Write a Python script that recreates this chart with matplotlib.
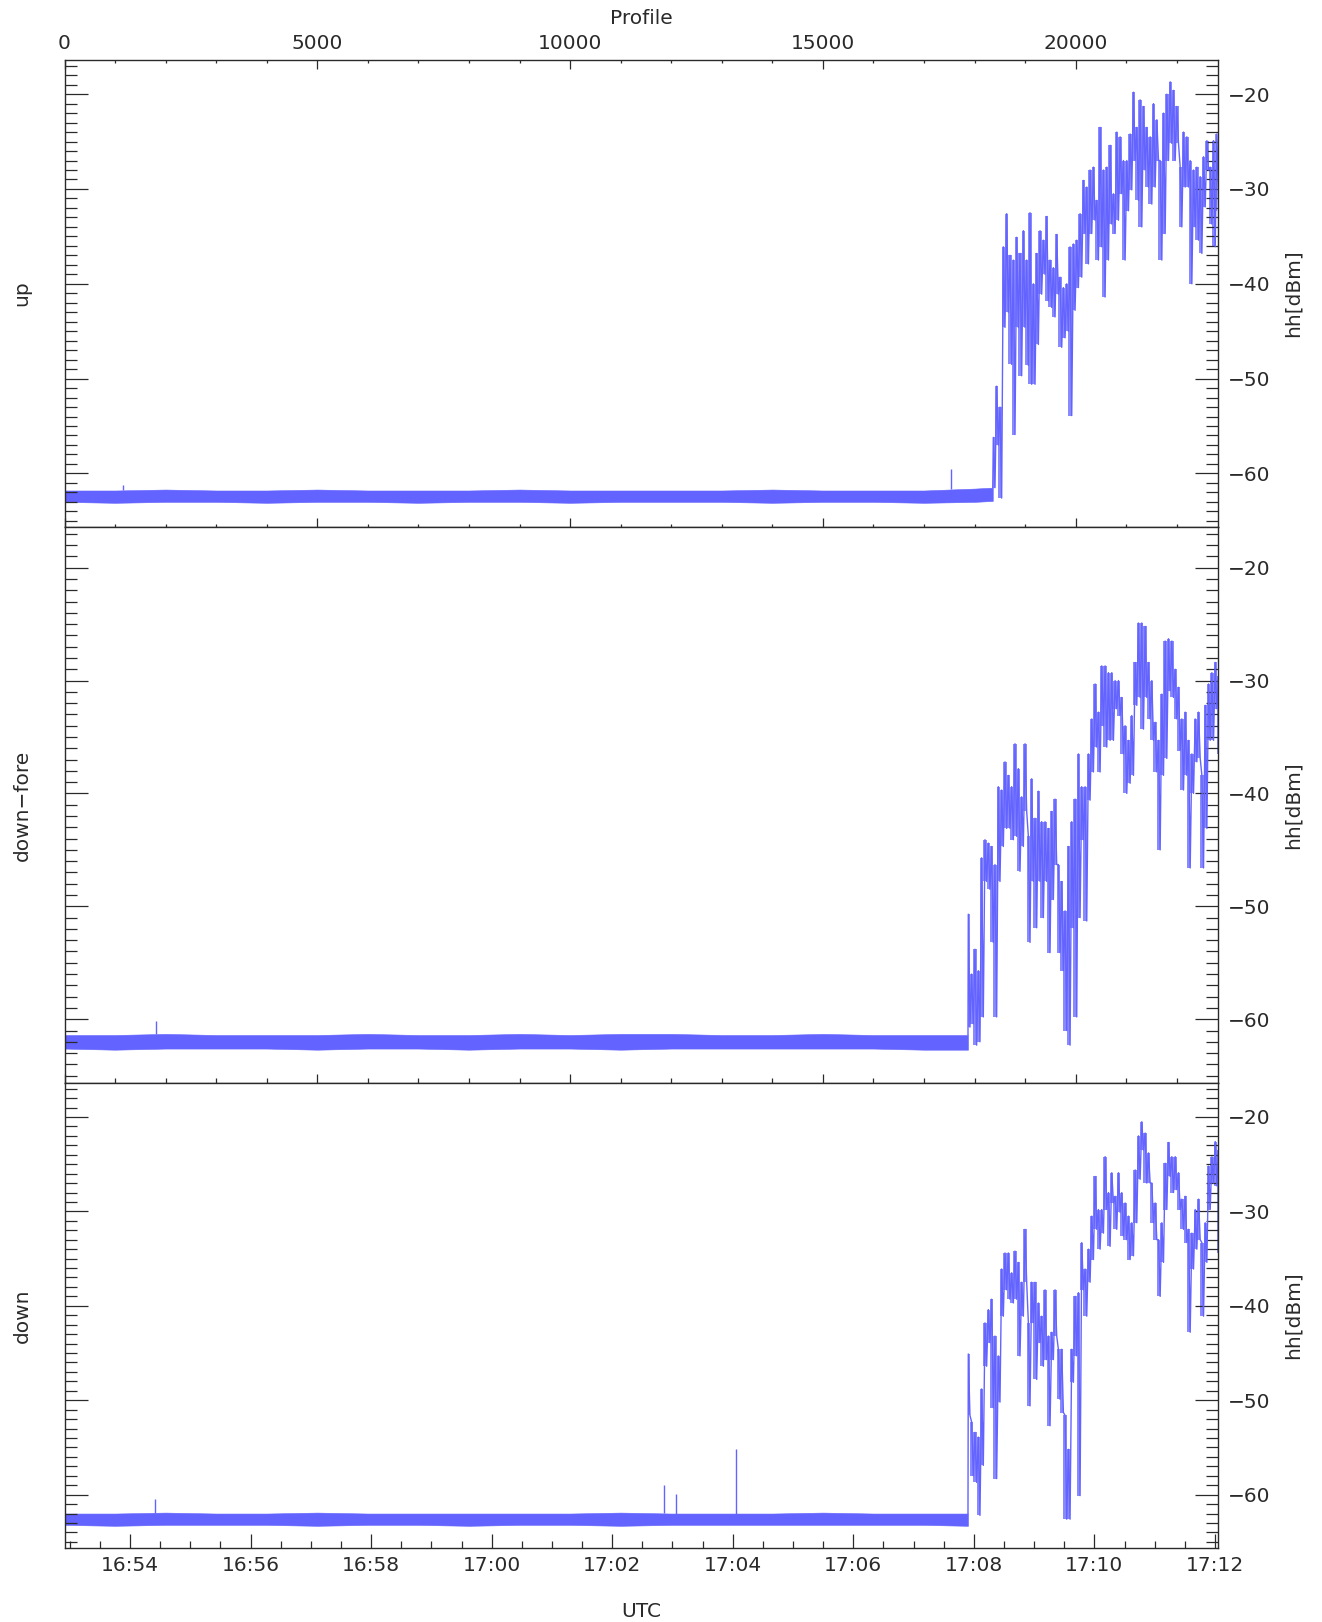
import numpy as np
import matplotlib
matplotlib.use("Agg")
import matplotlib.pyplot as plt
from matplotlib.ticker import MultipleLocator, FixedLocator, FixedFormatter

# profile number / UTC time of the record
N_PROF = 22815
T_START = 16 * 3600 + 52 * 60 + 54.8     # seconds of day at profile 0
T_END = 17 * 3600 + 12 * 60 + 3.0        # seconds of day at N_PROF

PANEL_NAMES = ["up", "down\u2212fore", "down"]
Y_LABEL = "hh[dBm]"

utc_major = ["16:54", "16:56", "16:58", "17:00", "17:02", "17:04",
             "17:06", "17:08", "17:10", "17:12"]

# noise floor before the returns come in (profile, upper and lower envelope)
up_floor_prof = [0, 1000, 2000, 3000, 4000, 5000, 6000, 7000, 8000, 9000,
                 10000, 11000, 12000, 13000, 14000, 15000, 16000, 17000, 18000, 18360]
up_floor_hi = [-61.8, -61.8, -61.7, -61.8, -61.8, -61.7, -61.8, -61.8, -61.8, -61.7,
               -61.8, -61.8, -61.8, -61.8, -61.7, -61.8, -61.8, -61.8, -61.6, -61.5]
up_floor_lo = [-63.0, -63.1, -63.0, -63.0, -63.1, -63.0, -63.0, -63.1, -63.0, -63.0,
               -63.1, -63.0, -63.0, -63.0, -63.1, -63.0, -63.0, -63.1, -63.0, -62.9]

fore_floor_prof = [0, 1000, 2000, 3000, 4000, 5000, 6000, 7000, 8000, 9000,
                   10000, 11000, 12000, 13000, 14000, 15000, 16000, 17000, 17870]
fore_floor_hi = [-61.4, -61.4, -61.3, -61.4, -61.4, -61.4, -61.3, -61.4, -61.4, -61.3,
                 -61.4, -61.3, -61.3, -61.4, -61.4, -61.3, -61.4, -61.4, -61.4]
fore_floor_lo = [-62.6, -62.7, -62.6, -62.6, -62.6, -62.7, -62.6, -62.6, -62.7, -62.6,
                 -62.6, -62.7, -62.6, -62.6, -62.6, -62.6, -62.6, -62.7, -62.7]

down_floor_prof = [0, 1000, 2000, 3000, 4000, 5000, 6000, 7000, 8000, 9000,
                   10000, 11000, 12000, 13000, 14000, 15000, 16000, 17000, 17870]
down_floor_hi = [-62.0, -62.0, -61.9, -62.0, -62.0, -61.9, -62.0, -62.0, -62.0, -62.0,
                 -62.0, -61.9, -62.0, -62.0, -62.0, -61.9, -62.0, -62.0, -62.0]
down_floor_lo = [-63.2, -63.3, -63.2, -63.2, -63.2, -63.3, -63.2, -63.2, -63.3, -63.2,
                 -63.2, -63.3, -63.2, -63.2, -63.2, -63.2, -63.2, -63.2, -63.3]

# isolated spikes in the noise floor (profile, peak)
up_spike_prof = [1157, 17534]
up_spike_val = [-61.2, -59.5]
fore_spike_prof = [1814]
fore_spike_val = [-60.2]
down_spike_prof = [1794, 11863, 12094, 13275]
down_spike_val = [-60.5, -59.0, -59.9, -55.2]

# surface returns: upper / lower envelope every 66 profiles
STEP = 66
up_start = 18371
up_hi = [-56.2, -50.8, -53.0, -36.1, -32.6, -37.0, -37.5, -35.1, -36.8, -34.4,
         -37.5, -32.5, -40.0, -36.8, -34.4, -35.4, -32.9, -37.5, -38.3, -34.8,
         -39.3, -40.4, -40.0, -36.1, -35.8, -35.4, -32.6, -29.1, -29.8, -28.0,
         -27.7, -31.2, -23.5, -28.0, -27.7, -25.4, -30.5, -24.0, -24.5, -27.0,
         -27.0, -24.2, -19.8, -23.5, -20.6, -21.3, -23.5, -24.5, -21.0, -22.7,
         -27.0, -22.0, -20.0, -18.7, -19.6, -21.3, -27.7, -24.0, -24.5, -27.0,
         -28.0, -27.7, -28.7, -26.6, -24.9, -27.7, -24.9, -24.2]
up_lo = [-61.5, -57.0, -62.6, -44.6, -43.0, -48.5, -55.9, -44.6, -49.7, -44.6,
         -48.6, -50.6, -50.6, -46.4, -41.1, -39.0, -41.8, -42.5, -43.5, -41.1,
         -46.7, -45.7, -45.0, -53.9, -42.8, -40.4, -39.3, -34.7, -37.9, -34.7,
         -33.3, -37.5, -36.1, -41.4, -37.5, -33.7, -34.7, -33.3, -30.5, -37.5,
         -32.3, -30.1, -27.0, -31.2, -34.0, -28.0, -29.8, -31.6, -29.8, -27.0,
         -37.5, -34.7, -27.0, -25.2, -27.0, -25.2, -34.0, -29.8, -29.8, -40.0,
         -34.0, -35.4, -36.8, -31.9, -28.0, -33.7, -36.1, -32.3]

fore_start = 17876
fore_hi = [-50.7, -56.0, -53.8, -55.7, -45.7, -44.1, -44.4, -44.7, -46.3, -39.4,
           -39.7, -37.2, -38.4, -39.4, -35.6, -37.8, -40.3, -35.6, -43.8, -38.7,
           -42.2, -39.8, -42.5, -42.5, -43.1, -41.6, -40.5, -46.3, -47.8, -50.4,
           -44.7, -42.5, -40.5, -36.5, -39.4, -39.4, -36.5, -33.4, -30.3, -32.8,
           -28.7, -28.7, -29.3, -29.3, -30.0, -30.0, -31.5, -34.0, -35.3, -33.1,
           -28.4, -24.9, -24.9, -25.2, -28.4, -30.0, -33.7, -35.3, -31.2, -26.5,
           -26.3, -26.5, -29.0, -30.6, -33.4, -32.8, -35.3, -36.5, -33.4, -32.8,
           -38.4, -32.2, -30.3, -29.3, -28.4, -29.6]
fore_lo = [-60.7, -60.4, -62.3, -62.0, -59.8, -47.8, -48.5, -53.2, -59.8, -47.8,
           -44.7, -43.1, -43.1, -44.1, -43.8, -46.9, -44.7, -41.6, -53.2, -47.8,
           -51.9, -47.8, -51.0, -47.8, -54.1, -49.4, -46.3, -54.1, -55.7, -61.0,
           -62.3, -51.9, -59.8, -51.0, -44.1, -51.3, -40.6, -38.1, -35.9, -38.1,
           -34.0, -35.9, -35.3, -35.3, -32.5, -33.1, -36.5, -40.0, -39.1, -38.4,
           -32.2, -31.5, -34.3, -31.5, -33.4, -35.3, -38.1, -45.0, -38.4, -36.9,
           -30.9, -31.5, -33.4, -36.2, -39.7, -38.4, -46.6, -40.0, -37.2, -36.9,
           -46.6, -43.1, -35.3, -35.3, -32.5, -36.5]

down_start = 17876
down_hi = [-45.1, -52.3, -53.4, -53.9, -48.8, -41.8, -40.4, -39.3, -43.2, -45.3,
           -36.1, -34.4, -34.4, -36.5, -34.2, -35.4, -37.5, -31.9, -41.8, -37.5,
           -37.5, -39.7, -41.1, -38.3, -43.2, -42.8, -38.3, -44.6, -44.6, -51.6,
           -55.2, -44.6, -39.0, -38.6, -33.3, -36.1, -34.0, -30.5, -26.3, -29.8,
           -29.8, -24.2, -28.0, -25.9, -28.4, -25.9, -28.0, -29.1, -30.5, -31.2,
           -25.6, -22.0, -20.5, -21.7, -23.8, -27.0, -29.1, -33.0, -31.2, -24.9,
           -22.7, -24.2, -24.2, -25.9, -28.7, -28.4, -31.9, -32.3, -29.8, -28.7,
           -33.3, -31.2, -25.2, -24.2, -22.6, -23.5]
down_lo = [-51.6, -58.0, -58.7, -62.2, -56.9, -46.4, -43.9, -50.8, -58.3, -50.2,
           -41.1, -38.3, -39.3, -39.7, -39.3, -45.3, -41.1, -37.5, -50.6, -41.8,
           -47.8, -43.9, -46.4, -45.7, -52.7, -45.7, -43.2, -49.9, -51.3, -62.6,
           -62.6, -48.1, -45.3, -60.1, -38.3, -41.1, -37.5, -35.1, -31.9, -34.0,
           -32.3, -29.8, -33.7, -29.1, -31.9, -30.1, -32.6, -33.0, -35.1, -34.7,
           -31.2, -26.6, -23.5, -27.0, -27.0, -31.2, -33.0, -39.0, -35.4, -29.8,
           -26.3, -28.0, -27.7, -29.8, -31.9, -33.3, -42.8, -36.1, -34.0, -33.0,
           -41.1, -35.4, -29.8, -27.0, -27.3, -34.4]

panels = [
    (up_floor_prof, up_floor_hi, up_floor_lo, up_spike_prof, up_spike_val, up_start, up_hi, up_lo),
    (fore_floor_prof, fore_floor_hi, fore_floor_lo, fore_spike_prof, fore_spike_val, fore_start, fore_hi, fore_lo),
    (down_floor_prof, down_floor_hi, down_floor_lo, down_spike_prof, down_spike_val, down_start, down_hi, down_lo),
]

BLUE = "#6363ff"
INK = "#2a2a2a"
FS = 14.5

plt.rcParams["font.family"] = ["DejaVu Sans"]
plt.rcParams["axes.unicode_minus"] = True

W, H = 1322, 1622
fig = plt.figure(figsize=(W / 100, H / 100), dpi=100)

x0, x1 = 64.5, 1218
edges = [60, 527, 1083, 1548]
axes = []
for i in range(3):
    top, bot = edges[i], edges[i + 1]
    ax = fig.add_axes([x0 / W, 1 - bot / H, (x1 - x0) / W, (bot - top) / H])
    axes.append(ax)


def to_prof(sec_of_day):
    return (sec_of_day - T_START) / (T_END - T_START) * N_PROF


for i, (ax, p) in enumerate(zip(axes, panels)):
    fp, fhi, flo, sp, sv, start, hi, lo = p
    # noise floor band
    ax.fill_between(fp, flo, fhi, color=BLUE, lw=0.4, edgecolor=BLUE)
    # spikes sticking out of the floor
    base = np.interp(sp, fp, fhi)
    ax.vlines(sp, base, sv, color=BLUE, lw=1.0)
    # returns: shaded envelope with a trace bouncing between its edges
    hi = np.asarray(hi)
    lo = np.asarray(lo)
    prof = start + STEP * np.arange(len(hi))
    ax.fill_between(prof, lo, hi, step="mid", color=BLUE, alpha=0.75, lw=0)
    xs = np.column_stack([prof, prof + STEP / 2]).ravel()
    ys = np.column_stack([hi, lo]).ravel()
    xs = np.concatenate([[fp[-1]], xs])
    ys = np.concatenate([[fhi[-1]], ys])
    ax.plot(xs, ys, color=BLUE, lw=1.0)

    ax.set_xlim(0, N_PROF)
    ax.set_ylim(-65.65, -16.4)
    for s in ax.spines.values():
        s.set_color(INK)
        s.set_linewidth(1.0)

    ax.yaxis.set_major_locator(MultipleLocator(10))
    ax.yaxis.set_minor_locator(MultipleLocator(1))
    ax.tick_params(axis="y", which="both", direction="in", left=True, right=True,
                   labelleft=False, labelright=True, color=INK, width=0.9,
                   labelsize=FS, labelcolor=INK, pad=7)
    ax.tick_params(axis="y", which="major", length=16.5)
    ax.tick_params(axis="y", which="minor", length=8.4)

    cy = 1 - (edges[i] + edges[i + 1]) / 2 / H
    fig.text(22 / W, cy, PANEL_NAMES[i], rotation=90, ha="center", va="center",
             fontsize=FS, color=INK)
    fig.text(1293 / W, cy, Y_LABEL, rotation=90, ha="center", va="center",
             fontsize=FS, color=INK)

# profile ticks on the upper panels
for ax in axes[:2]:
    ax.xaxis.set_major_locator(MultipleLocator(5000))
    ax.xaxis.set_minor_locator(MultipleLocator(1000))
    ax.tick_params(axis="x", which="both", direction="in", color=INK, width=0.9,
                   bottom=True, top=False, labelbottom=False)
    ax.tick_params(axis="x", which="major", length=6.5)
    ax.tick_params(axis="x", which="minor", length=3.5)

ax = axes[0]
ax.tick_params(axis="x", which="both", top=True, labeltop=True, labelsize=FS,
               labelcolor=INK, pad=5)
ax.tick_params(axis="x", which="minor", length=2.5)
fig.text((x0 + x1) / 2 / W, 1 - 18.5 / H, "Profile", ha="center", va="center",
         fontsize=FS, color=INK)

# UTC ticks on the bottom panel
ax = axes[2]
major_sec = [16 * 3600 + 54 * 60 + 120 * k for k in range(len(utc_major))]
minor_sec = [16 * 3600 + 53 * 60 + 30 * k for k in range(39)]
ax.xaxis.set_major_locator(FixedLocator([to_prof(t) for t in major_sec]))
ax.xaxis.set_major_formatter(FixedFormatter(utc_major))
ax.xaxis.set_minor_locator(FixedLocator([to_prof(t) for t in minor_sec]))
ax.tick_params(axis="x", which="both", direction="in", color=INK, width=0.9,
               top=False, labelsize=FS, labelcolor=INK, pad=6)
ax.tick_params(axis="x", which="major", length=10)
ax.tick_params(axis="x", which="minor", length=5.3)
ax.set_xlabel("UTC", fontsize=FS, color=INK, labelpad=19)

fig.savefig("out.png", dpi=100)
